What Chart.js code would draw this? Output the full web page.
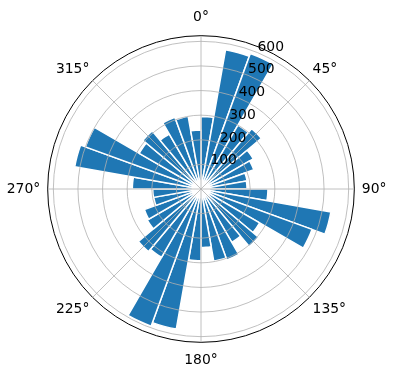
<!DOCTYPE html>
<html>
<head>
<meta charset="utf-8">
<script src="https://cdn.jsdelivr.net/npm/chart.js@4/dist/chart.umd.min.js"></script>
<style>
  html, body { margin: 0; padding: 0; background: #fff; }
  #wrap { width: 396px; height: 380px; }
</style>
</head>
<body>
<div id="wrap"><canvas id="rose" width="396" height="380"></canvas></div>
<script>
// 36 sectors of 10 degrees, clockwise from north (0° at top)
const sectorStarts = [0, 10, 20, 30, 40, 50, 60, 70, 80, 90, 100, 110,
  120, 130, 140, 150, 160, 170, 180, 190, 200, 210, 220, 230,
  240, 250, 260, 270, 280, 290, 300, 310, 320, 330, 340, 350];
const counts = [295, 574, 586, 300, 320, 245, 228, 190, 187, 272, 536, 480,
  275, 305, 250, 307, 298, 238, 292, 578, 593, 320, 332, 252,
  245, 195, 196, 279, 521, 500, 290, 308, 258, 310, 300, 240];

const angleLabels = ["0°", "45°", "90°", "135°", "180°", "225°", "270°", "315°"];
const rTicks = [100, 200, 300, 400, 500, 600];
const rMax = 623;          // outer circle (data max + 5% margin)
const rLabelAngle = 22.5;  // direction of the radial tick labels

const FONT = "DejaVu Sans";
const el = (id) => document.getElementById(id);

// radial tick labels sit on a 22.5° ray, upright, like matplotlib does it
const rLabels = {
  id: "rLabels",
  afterDraw(chart) {
    const scale = chart.scales.r;
    const ctx = chart.ctx;
    ctx.save();
    ctx.font = "13.9px '" + FONT + "'";
    ctx.fillStyle = "#000";
    ctx.textAlign = "left";
    ctx.textBaseline = "alphabetic";
    rTicks.forEach(v => {
      const d = scale.getDistanceFromCenterForValue(v);
      const p = scale.getPointPosition(0, d, rLabelAngle * Math.PI / 180);
      ctx.fillText(String(v), p.x, p.y - 2);
    });
    ctx.restore();
  }
};

new Chart(el("rose").getContext("2d"), {
  type: "polarArea",
  data: {
    labels: angleLabels,
    datasets: [{
      label: "count",
      data: sectorStarts.map((a, i) => counts[i]),
      backgroundColor: "#1f77b4",
      borderColor: "#ffffff",
      borderWidth: 1.5,
    }]
  },
  options: {
    responsive: false,
    devicePixelRatio: 1,
    animation: false,
    layout: { padding: { top: 9, bottom: 10, left: 0, right: 2 } },
    plugins: {
      legend: { display: false },
      tooltip: { enabled: false }
    },
    scales: {
      r: {
        min: 0,
        max: rMax,
        startAngle: 0,
        afterBuildTicks: (scale) => {
          scale.ticks = [0].concat(rTicks, [rMax]).map(v => ({ value: v }));
        },
        ticks: { display: false },
        grid: {
          z: 1,
          circular: true,
          color: (c) => (c.tick && c.tick.value === rMax) ? "#000000" : "#b0b0b0",
          lineWidth: (c) => (c.tick && c.tick.value === rMax) ? 1 : 0.8,
        },
        angleLines: { display: true, color: "#b0b0b0", lineWidth: 0.8 },
        pointLabels: {
          display: true,
          color: "#000",
          font: { family: FONT, size: 13.9 },
          padding: (c) => [10, 4.5, 7.5, 4.5][c.index % 4],
        }
      }
    }
  },
  plugins: [rLabels]
});
</script>
</body>
</html>
